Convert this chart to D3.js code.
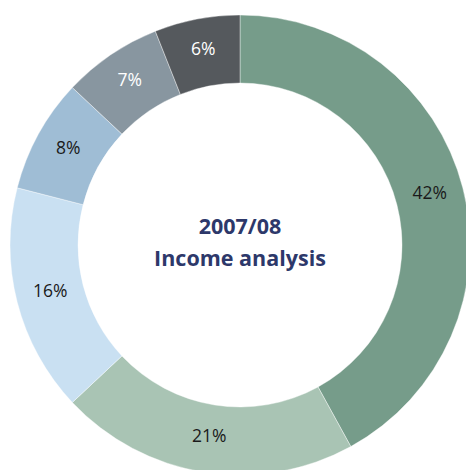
<!DOCTYPE html>
<html><head><meta charset="utf-8">
<script src="https://cdn.jsdelivr.net/npm/d3@7"></script>
<style>body{margin:0;background:#fff}</style>
</head><body><svg id="c" width="466" height="470"></svg>
<script>
const categories = ["A","B","C","D","E","F"];
const values = [42,21,16,8,7,6];
const labels = ["42%","21%","16%","8%","7%","6%"];
const colors = ["#769c8a","#a9c4b4","#c9e0f2","#9fbdd5","#8896a0","#55595d"];
const labelColors = ["#1a1a1a","#1a1a1a","#1a1a1a","#1a1a1a","#ffffff","#ffffff"];
const titleLines = ["2007/08","Income analysis"];

const svg = d3.select("#c");
const cx = 240, cy = 245, R = 230, r = 162;
const g = svg.append("g").attr("transform",`translate(${cx},${cy})`);
const pie = d3.pie().sort(null).value(d=>d)(values);
const arc = d3.arc().innerRadius(r).outerRadius(R);
const lab = d3.arc().innerRadius(r).outerRadius(R);
g.selectAll("path").data(pie).join("path")
  .attr("d",arc).attr("fill",(d,i)=>colors[i]).attr("stroke","#fff").attr("stroke-width",0.4);
g.selectAll("text.l").data(pie).join("text").attr("class","l")
  .attr("x",d=>lab.centroid(d)[0]).attr("y",d=>lab.centroid(d)[1]-4)
  .attr("text-anchor","middle").attr("dominant-baseline","central")
  .attr("font-family","Open Sans, sans-serif").attr("font-size",17.5)
  .attr("fill",(d,i)=>labelColors[i]).text((d,i)=>labels[i]);
g.selectAll("text.t").data(titleLines).join("text").attr("class","t")
  .attr("x",0).attr("y",(d,i)=>-20+i*32)
  .attr("text-anchor","middle").attr("dominant-baseline","central")
  .attr("font-family","Open Sans, sans-serif").attr("font-weight","bold").attr("font-size",21.5)
  .attr("fill","#2d386a").text(d=>d);
</script></body></html>
